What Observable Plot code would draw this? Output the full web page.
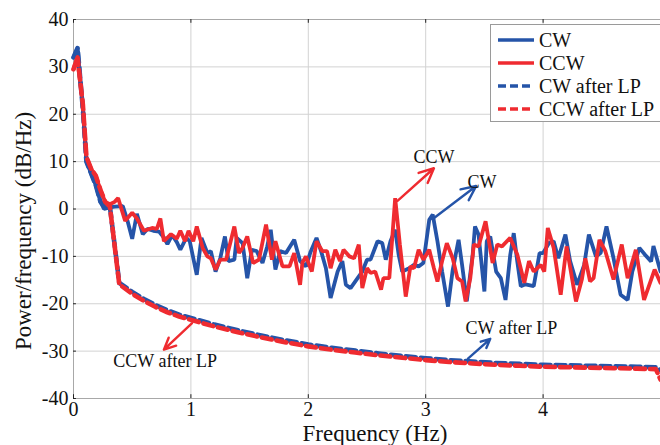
<!DOCTYPE html>
<html>
<head>
<meta charset="utf-8">
<script src="https://cdn.jsdelivr.net/npm/d3@7"></script>
<script src="https://cdn.jsdelivr.net/npm/@observablehq/plot@0.6"></script>
<style>
  html, body { margin: 0; padding: 0; background: white; }
  #wrap { position: relative; width: 660px; height: 445px; font-family: "Liberation Serif", serif; }
  #wrap svg, #wrap svg text { font-family: "Liberation Serif", serif !important; }
  #legend { position: absolute; left: 490px; top: 24px; width: 178px; height: 98px; background: white; border: 1px solid #9a9a9a; box-sizing: border-box; }
  .item { position: absolute; left: 6px; height: 22px; display: flex; align-items: center; font-size: 20px; color: #111; font-family: "Liberation Serif", serif; }
  .item svg { margin-right: 4px; }
</style>
</head>
<body>
<div id="wrap"><div id="legend"></div></div>
<script>
// ---- data ----
const xTicks = [0, 1, 2, 3, 4];
const yTicks = [-40, -30, -20, -10, 0, 10, 20, 30, 40];

const cwFreq = [0.00,0.035,0.08,0.11,0.15,0.19,0.23,0.26,0.30,0.35,0.42,0.46,0.50,0.54,0.59,0.63,0.68,0.73,0.77,0.80,0.84,0.88,0.91,0.96,0.99,1.05,1.09,1.14,1.17,1.21,1.25,1.29,1.32,1.37,1.39,1.44,1.48,1.52,1.56,1.61,1.65,1.68,1.72,1.76,1.81,1.88,1.93,1.98,2.02,2.07,2.11,2.15,2.19,2.25,2.29,2.32,2.36,2.42,2.46,2.50,2.53,2.59,2.63,2.66,2.70,2.74,2.77,2.80,2.86,2.90,2.94,2.98,3.03,3.06,3.10,3.14,3.19,3.23,3.28,3.31,3.35,3.40,3.42,3.45,3.50,3.52,3.55,3.60,3.64,3.68,3.72,3.75,3.78,3.81,3.85,3.92,3.97,4.00,4.05,4.09,4.13,4.19,4.23,4.29,4.35,4.39,4.45,4.49,4.54,4.60,4.66,4.72,4.76,4.82,4.87,4.92,4.94,5.00];
const cwDb   = [32,34,21,10,7.5,5,1.5,0,0.3,0.5,0.6,-2.5,-6.3,-1,-5.3,-4.2,-4.6,-4.8,-6,-7.4,-5.5,-7,-8.6,-6.1,-6.8,-13.9,-6.1,-9.3,-8.9,-13.2,-10.4,-5.8,-11,-10.7,-6.1,-7.2,-14.6,-8.6,-8.9,-11.4,-7.9,-4.4,-12.8,-8.9,-9.3,-6.5,-11,-12.1,-9,-6.1,-9,-12.5,-18.8,-13.2,-11,-16,-16.7,-14.6,-13.2,-10.7,-10.7,-6.8,-7.2,-10.7,-6.8,-4.4,-9.7,-13.2,-12.5,-11.8,-12.1,-11.4,-2.3,-1.2,-6.8,-13.2,-20.6,-12.9,-6.5,-11.8,-19.5,-9.7,-3.7,-5.4,-17.4,-6.8,-5.8,-13.2,-14.6,-19.2,-9.7,-5.1,-11.1,-16.3,-15.9,-16.3,-9.3,-9.3,-7.2,-6.8,-10.4,-5.4,-11,-16,-11.8,-5.4,-10,-9.3,-3.7,-10.4,-18.1,-19.2,-13.2,-8.2,-9.7,-11.1,-7.8,-13.2];

const ccwFreq = [0.00,0.03,0.08,0.11,0.15,0.19,0.23,0.27,0.31,0.35,0.38,0.44,0.50,0.54,0.60,0.67,0.71,0.74,0.77,0.83,0.88,0.91,0.95,0.98,1.02,1.05,1.10,1.14,1.17,1.21,1.25,1.30,1.37,1.41,1.44,1.48,1.53,1.58,1.64,1.69,1.72,1.78,1.84,1.88,1.93,1.95,1.98,2.03,2.07,2.12,2.16,2.19,2.23,2.27,2.30,2.35,2.39,2.43,2.46,2.50,2.53,2.57,2.62,2.64,2.69,2.74,2.78,2.83,2.87,2.90,2.94,2.98,3.03,3.07,3.10,3.14,3.18,3.23,3.27,3.31,3.34,3.38,3.41,3.45,3.51,3.57,3.61,3.65,3.72,3.78,3.84,3.88,3.92,3.98,4.01,4.04,4.09,4.15,4.20,4.28,4.33,4.36,4.40,4.43,4.48,4.53,4.60,4.67,4.72,4.79,4.86,4.95,5.00];
const ccwDb   = [29.5,32,22,11,8.5,7,4,1.5,1,1.5,2.3,-2.5,-0.8,-2,-4.6,-4,-4.2,-2,-6.8,-5.3,-6.3,-4.6,-6.8,-4.6,-6.8,-3.7,-8.2,-10,-10.4,-12.8,-10.7,-10.7,-3.7,-9.3,-8.2,-5.8,-11.4,-10.7,-3.3,-10.7,-6.8,-12.1,-12.1,-9.3,-16,-11.3,-10,-13.2,-6.8,-8.9,-8.9,-12.5,-8.6,-11,-8.6,-10,-10.4,-7.5,-16.7,-12.5,-13.5,-13.2,-17,-14.6,-14.6,2.3,-7.5,-18.5,-12.1,-12.5,-8.6,-10.7,-8.6,-12.5,-15.3,-11,-7.2,-10.4,-14.6,-15.3,-19.5,-14.6,-7.5,-7.9,-2.6,-11.4,-7.5,-7.9,-6.1,-9.6,-15.6,-11,-13.2,-11.8,-13.2,-4,-8.2,-18.1,-7.9,-19.5,-14.9,-10.4,-15.3,-14.6,-6.5,-8.9,-14.9,-7.5,-14.6,-8.6,-19.2,-12.8,-15.6];

const lpFreq  = [0.00,0.035,0.08,0.11,0.15,0.19,0.23,0.27,0.31,0.39,0.5,0.6,0.7,0.8,0.9,1.0,1.2,1.4,1.6,1.8,2.0,2.2,2.4,2.6,2.8,3.0,3.2,3.4,3.6,3.8,4.0,4.2,4.4,4.6,4.8,4.96,5.0];
const cwLpDb  = [32,34,21,10,7.5,5,1.5,0.3,0.5,-15.6,-17.5,-19.0,-20.3,-21.4,-22.3,-23.0,-24.4,-25.6,-26.7,-27.7,-28.6,-29.3,-29.9,-30.5,-31.0,-31.5,-31.9,-32.2,-32.5,-32.7,-32.9,-33.0,-33.1,-33.2,-33.3,-33.4,-34.0];
const ccwLpDb = [29.5,32,22,11,8.5,7,4,1.5,0.5,-15.9,-17.9,-19.4,-20.7,-21.8,-22.7,-23.4,-24.8,-26.0,-27.1,-28.1,-29.0,-29.7,-30.3,-30.9,-31.4,-31.9,-32.3,-32.6,-32.9,-33.1,-33.3,-33.4,-33.5,-33.6,-33.7,-33.8,-36];

const annLabels = ["CCW", "CW", "CCW after LP", "CW after LP"];
const annFrom = [[2.76, 1.7], [3.06, -2.1], [1.01, -24.1], [3.36, -31.6]];
const annTo   = [[3.07, 8.6], [3.43, 4.85], [0.77, -29.7], [3.55, -27.4]];
const annText = [[3.07, 11.0], [3.48, 5.7], [0.78, -32.2], [3.73, -25.1]];
const annAnchor = ["start", "start", "middle", "middle"];
const annColor = ["red", "blue", "red", "blue"];

const seriesNames = ["CW", "CCW", "CW after LP", "CCW after LP"];

// ---- styling ----
const FONT = "Liberation Serif, serif";
const BLUE = "#2554a8";
const RED = "#ef2b30";
const col = {blue: BLUE, red: RED};

const cw = cwFreq.map((f, i) => ({f, db: cwDb[i]}));
const ccw = ccwFreq.map((f, i) => ({f, db: ccwDb[i]}));
const cwLp = lpFreq.map((f, i) => ({f, db: cwLpDb[i]}));
const ccwLp = lpFreq.map((f, i) => ({f, db: ccwLpDb[i]}));
const ann = annLabels.map((t, i) => ({
  t, x1: annFrom[i][0], y1: annFrom[i][1], x2: annTo[i][0], y2: annTo[i][1],
  tx: annText[i][0], ty: annText[i][1], anchor: annAnchor[i], c: col[annColor[i]]
}));

const chart = Plot.plot({
  width: 660, height: 445,
  marginLeft: 73, marginRight: 0, marginTop: 19, marginBottom: 47,
  x: {domain: [0, 5]},
  y: {domain: [-40, 40]},
  style: {fontFamily: FONT, fontSize: "19px", color: "#111", background: "white"},
  marks: [
    Plot.gridX(xTicks, {stroke: "#d2d2d2", strokeOpacity: 1}),
    Plot.gridY(yTicks, {stroke: "#d2d2d2", strokeOpacity: 1}),
    Plot.frame({stroke: "#a8a8a8"}),
    Plot.ruleY(yTicks, {x1: 0, x2: 0.025, stroke: "#222", strokeWidth: 1}),
    Plot.ruleX(xTicks, {y1: -40, y2: -39.2, stroke: "#222", strokeWidth: 1}),
    Plot.ruleX(xTicks, {y1: 40, y2: 39.2, stroke: "#222", strokeWidth: 1}),
    Plot.axisX({ticks: xTicks, tickSize: 0, tickPadding: 3, tickFormat: d => String(d), label: null, fontSize: 20, fontFamily: FONT}),
    Plot.axisY({ticks: yTicks, tickSize: 0, tickPadding: 5, tickFormat: d => String(d), label: null, fontSize: 20, fontFamily: FONT}),
    Plot.text(["Frequency (Hz)"], {frameAnchor: "bottom", textAnchor: "middle", lineAnchor: "middle", dy: 35, dx: 8, fontSize: 23, fill: "#111", fontFamily: FONT}),
    Plot.text(["Power/frequency (dB/Hz)"], {frameAnchor: "left", textAnchor: "middle", lineAnchor: "middle", dx: -50, dy: 22, rotate: -90, fontSize: 23, fill: "#111", fontFamily: FONT}),
    Plot.line(cw, {x: "f", y: "db", stroke: BLUE, strokeWidth: 3.8, strokeLinejoin: "miter"}),
    Plot.line(ccw, {x: "f", y: "db", stroke: RED, strokeWidth: 3.8, strokeLinejoin: "miter"}),
    Plot.line(cwLp, {x: "f", y: "db", stroke: BLUE, strokeWidth: 4.6, strokeDasharray: "10,5"}),
    Plot.line(ccwLp, {x: "f", y: "db", stroke: RED, strokeWidth: 4.6, strokeDasharray: "10,5", strokeDashoffset: 5}),
    Plot.arrow(ann, {x1: "x1", y1: "y1", x2: "x2", y2: "y2", stroke: "c", strokeWidth: 2.4, headLength: 10, headAngle: 50}),
    Plot.text(ann, {x: "tx", y: "ty", text: "t", textAnchor: "anchor", fontSize: 18, fill: "#111", fontFamily: FONT})
  ]
});
document.getElementById("wrap").prepend(chart);

// legend
const legend = document.getElementById("legend");
const styles = [[BLUE, null], [RED, null], [BLUE, "8,4"], [RED, "8,4"]];
seriesNames.forEach((name, i) => {
  const d = document.createElement("div");
  d.className = "item";
  d.style.top = (4 + i * 23) + "px";
  const [c, dash] = styles[i];
  d.innerHTML = `<svg width="38" height="10"><line x1="1" y1="5" x2="37" y2="5" stroke="${c}" stroke-width="3.5" ${dash ? `stroke-dasharray="${dash}"` : ""}/></svg><span>${name}</span>`;
  legend.appendChild(d);
});
</script>
</body>
</html>
